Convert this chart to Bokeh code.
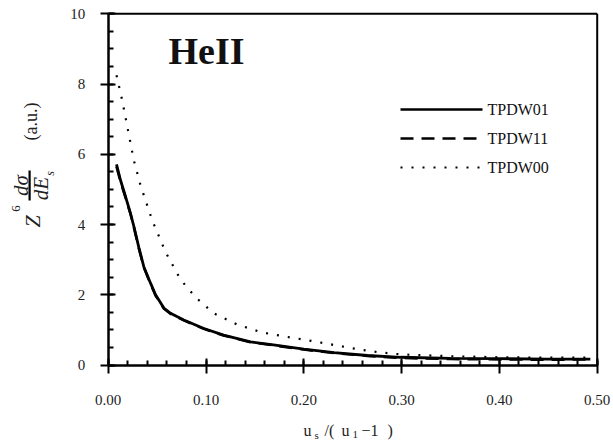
import math
from bokeh.plotting import figure
from bokeh.models import Range1d, FixedTicker, PrintfTickFormatter, Label, BoxAnnotation
from bokeh.embed import file_html
from bokeh.resources import INLINE

# ---- data ----
x_tpdw01 = [0.0085, 0.0126, 0.0178, 0.0228, 0.0262, 0.0313, 0.0364, 0.0433, 0.0484, 0.0569,
            0.0637, 0.0773, 0.0978, 0.118, 0.1455, 0.169, 0.200, 0.231, 0.265, 0.299,
            0.35, 0.40, 0.45, 0.493]
y_tpdw01 = [5.71, 5.26, 4.79, 4.32, 3.95, 3.35, 2.80, 2.33, 2.00, 1.62,
            1.47, 1.28, 1.04, 0.85, 0.66, 0.57, 0.45, 0.35, 0.27, 0.22,
            0.19, 0.18, 0.17, 0.17]

x_tpdw11 = [0.0085, 0.0126, 0.0178, 0.0228, 0.0262, 0.0313, 0.0364, 0.0433, 0.0484, 0.0569,
            0.0637, 0.0773, 0.0978, 0.118, 0.1455, 0.169, 0.200, 0.231, 0.265, 0.299,
            0.35, 0.40, 0.45, 0.493]
y_tpdw11 = [5.65, 5.22, 4.76, 4.30, 3.93, 3.33, 2.78, 2.31, 1.98, 1.61,
            1.46, 1.27, 1.03, 0.84, 0.65, 0.56, 0.44, 0.34, 0.26, 0.20,
            0.17, 0.16, 0.15, 0.16]

x_tpdw00 = [0.0085, 0.0143, 0.0262, 0.033, 0.045, 0.0586, 0.074, 0.0893, 0.108, 0.132,
            0.157, 0.181, 0.205, 0.229, 0.253, 0.277, 0.30, 0.35, 0.40, 0.45, 0.493]
y_tpdw00 = [8.25, 7.54, 5.83, 5.12, 4.12, 3.22, 2.43, 1.93, 1.47, 1.15,
            0.93, 0.81, 0.70, 0.58, 0.46, 0.36, 0.30, 0.25, 0.22, 0.21, 0.21]

x_major = [0.0, 0.1, 0.2, 0.3, 0.4, 0.5]
x_minor = [i * 0.02 for i in range(26)]
y_major = [0, 2, 4, 6, 8, 10]
y_minor = [i * 0.5 for i in range(21)]
x_lim = (0.0, 0.5)
y_lim = (0, 10)

series_names = ["TPDW01", "TPDW11", "TPDW00"]
title_text = "HeII"

SERIF = "Liberation Serif"
W, H = 613, 446

# page-pixel -> data helpers (layout only)
X0, XS = 107.7, 978.0
Y0, YS = 364.5, 35.12
def dx(px):
    return (px - X0) / XS
def dy(py):
    return (Y0 - py) / YS

p = figure(width=W, height=H, output_backend="svg", toolbar_location=None,
           x_range=Range1d(dx(0), dx(W)), y_range=Range1d(dy(H), dy(0)),
           min_border=0, min_border_left=0, min_border_right=0,
           min_border_top=0, min_border_bottom=0)
p.xgrid.visible = False
p.ygrid.visible = False
p.outline_line_color = None
p.background_fill_color = "white"
p.border_fill_color = "white"

xa = p.xaxis[0]
xa.ticker = FixedTicker(ticks=x_major, minor_ticks=x_minor)
xa.formatter = PrintfTickFormatter(format="%.2f")
xa.fixed_location = y_lim[0]
xa.bounds = x_lim
ya = p.yaxis[0]
ya.ticker = FixedTicker(ticks=y_major, minor_ticks=y_minor)
ya.fixed_location = x_lim[0]
ya.bounds = y_lim

for ax, standoff in ((xa, 22), (ya, 15)):
    ax.axis_line_width = 2.5
    ax.axis_line_color = "black"
    ax.major_tick_in = 7
    ax.major_tick_out = 8
    ax.minor_tick_in = 5
    ax.minor_tick_out = 0
    ax.major_tick_line_width = 2
    ax.minor_tick_line_width = 2
    ax.major_tick_line_color = "black"
    ax.minor_tick_line_color = "black"
    ax.major_label_text_font = SERIF
    ax.major_label_text_font_size = "15px"
    ax.major_label_text_color = "#222222"
    ax.major_label_standoff = standoff

# top and right frame lines
p.segment(x0=[x_lim[0], x_lim[1]], y0=[y_lim[1], y_lim[0]],
          x1=[x_lim[1], x_lim[1]], y1=[y_lim[1], y_lim[1]],
          line_color="black", line_width=2)

# curves
p.line(x_tpdw01, y_tpdw01, line_color="black", line_width=2.8)
p.line(x_tpdw11, y_tpdw11, line_color="black", line_width=2.6, line_dash="13 8")
p.line(x_tpdw00, y_tpdw00, line_color="black", line_width=2.2, line_dash="2 9")

# legend
leg_y = [109, 138, 167]
dashes = [None, "13 8", "2 9"]
for name, ly, dash in zip(series_names, leg_y, dashes):
    kw = {} if dash is None else {"line_dash": dash}
    p.line([dx(400), dx(482)], [dy(ly), dy(ly)], line_color="black",
           line_width=2.5 if dash != "2 9" else 2.2, **kw)
    p.add_layout(Label(x=dx(487), y=dy(ly), text=name, text_font=SERIF,
                       text_font_size="16px", text_baseline="middle", text_align="left",
                       text_color="#111111"))

# title
p.add_layout(Label(x=dx(168), y=dy(50), text=title_text, text_font=SERIF,
                   text_font_style="bold", text_font_size="38px",
                   text_baseline="middle", text_align="left", text_color="#111111"))

# y axis label pieces (rotated)
def ylab(px, py, text, size, style="normal"):
    p.add_layout(Label(x=dx(px), y=dy(py), text=text, angle=math.pi / 2,
                       text_font=SERIF, text_font_size=size, text_font_style=style,
                       text_align="center", text_baseline="middle", text_color="#222222"))

ylab(32, 221, "Z", "22px", "italic")
ylab(15, 208, "6", "13px")
ylab(20, 185, "dσ", "21px", "italic")
ylab(40, 188, "dE", "21px", "italic")
ylab(49, 173, "s", "12px", "italic")
ylab(30, 121, "(a.u.)", "18px")
p.add_layout(BoxAnnotation(left=dx(28), right=dx(30.2), top=dy(170), bottom=dy(200),
                           fill_color="black", fill_alpha=1, line_alpha=0))

# x axis label pieces
def xlab(px, py, text, size):
    p.add_layout(Label(x=dx(px), y=dy(py), text=text, text_font=SERIF, text_font_size=size,
                       text_align="left", text_baseline="middle", text_color="#222222"))

xlab(303, 430, "u", "16px")
xlab(314, 434, "s", "11px")
xlab(324, 430, "/(", "16px")
xlab(341, 430, "u", "16px")
xlab(352, 434, "1", "11px")
xlab(361, 430, "\u22121", "16px")
xlab(387, 430, ")", "16px")

open("out.html", "w").write(file_html(p, INLINE))
